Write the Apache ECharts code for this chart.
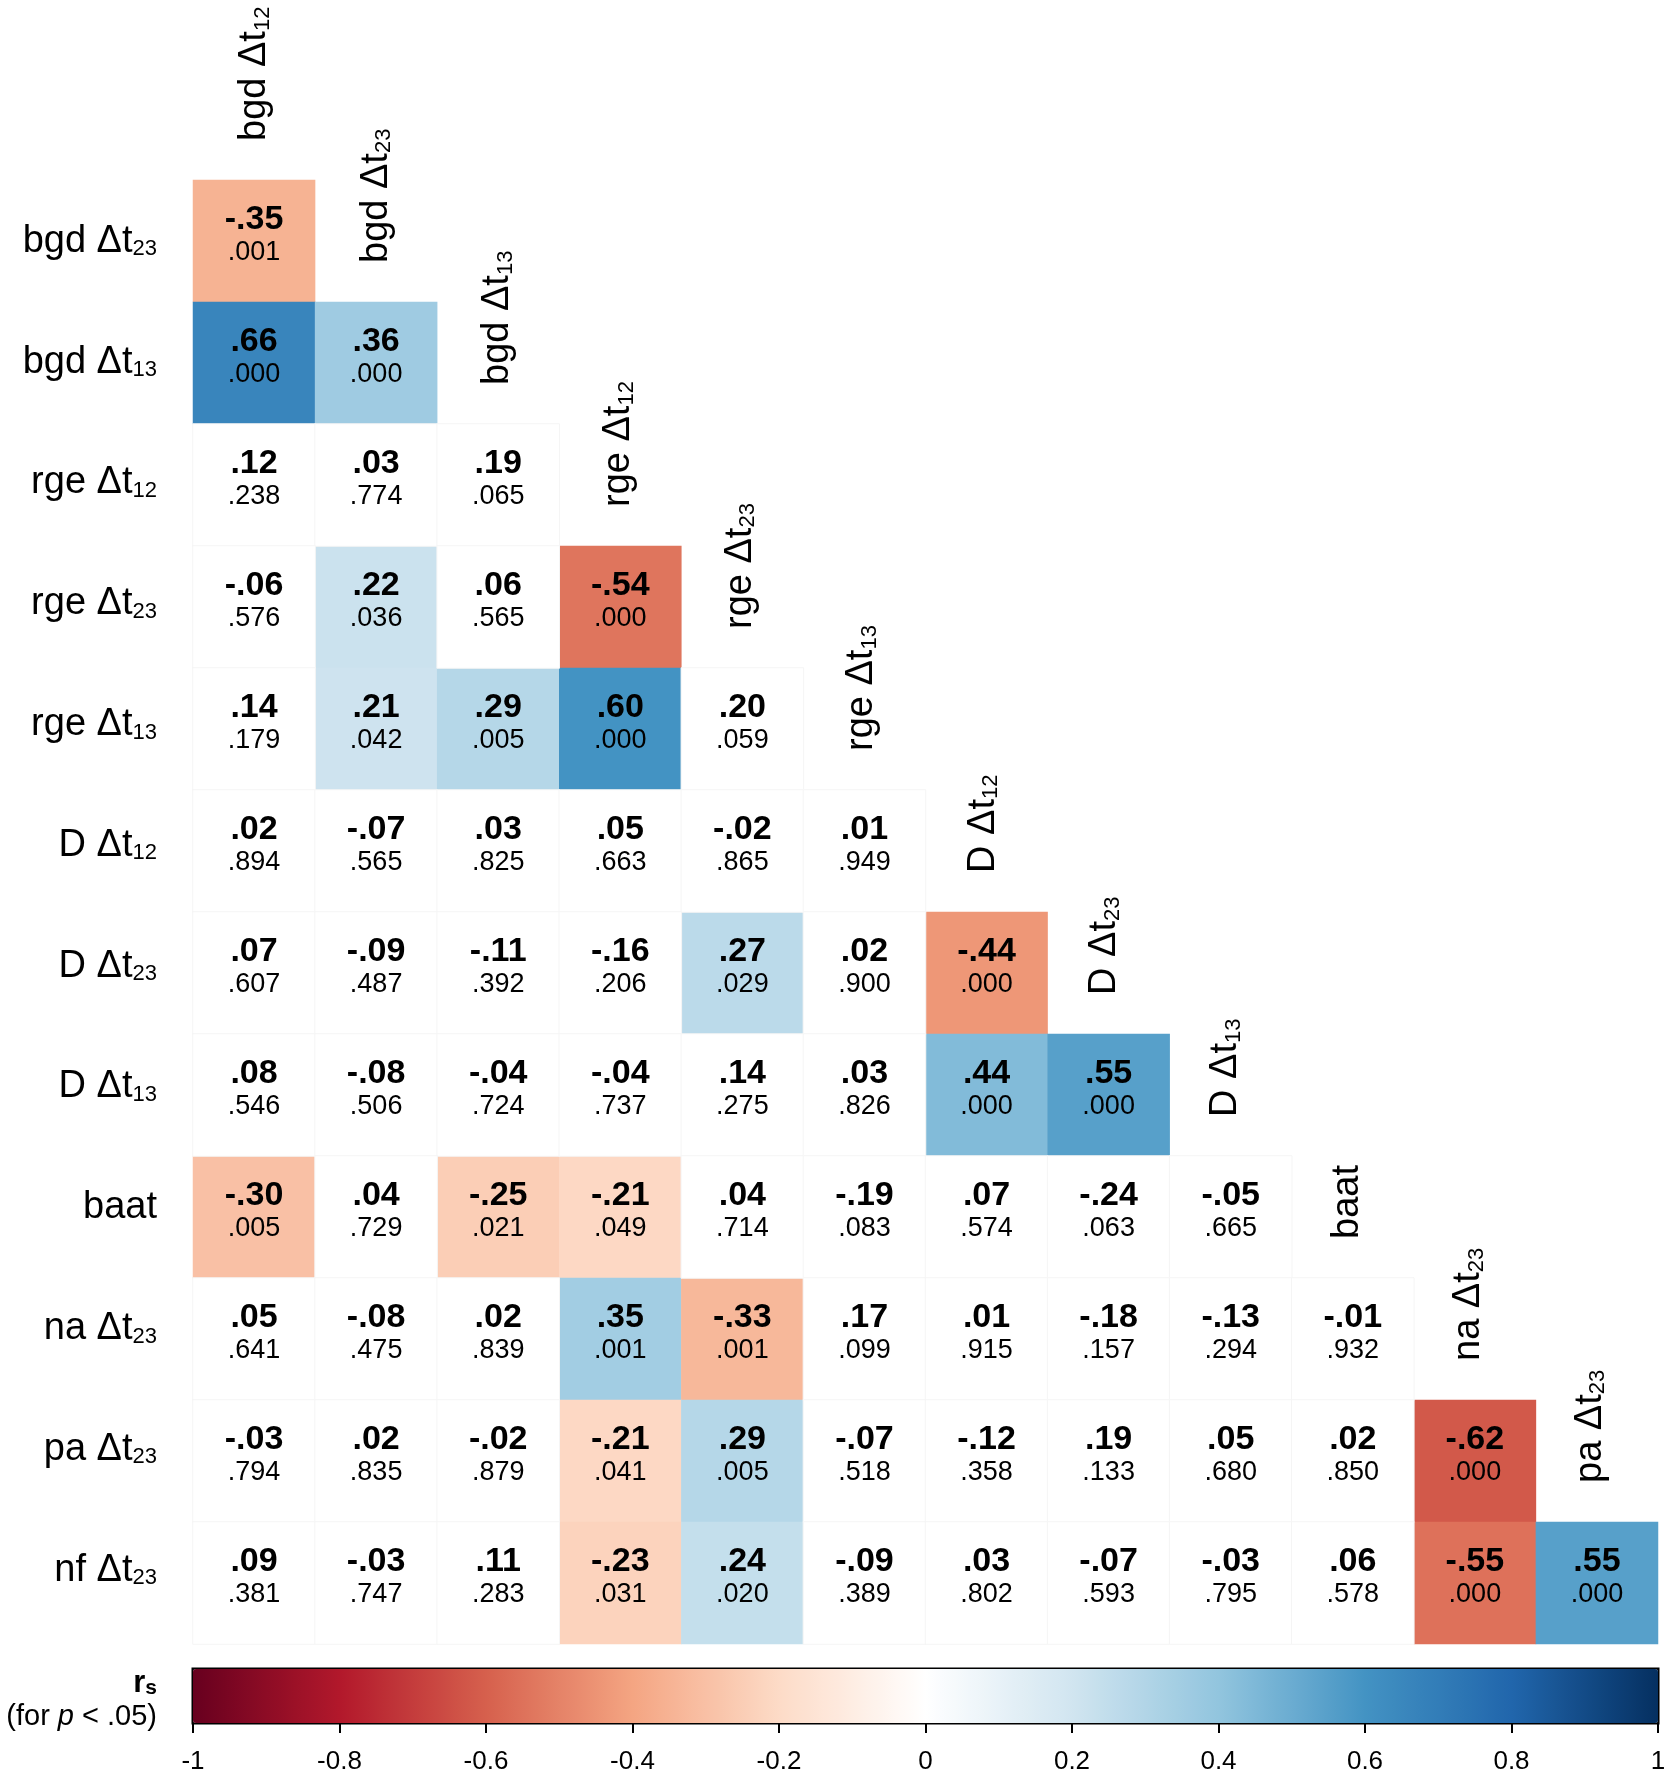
<!DOCTYPE html>
<html>
<head>
<meta charset="utf-8">
<title>Spearman correlation matrix</title>
<script src="https://cdn.jsdelivr.net/npm/echarts@6/dist/echarts.min.js"></script>
<style>
html, body { margin: 0; padding: 0; background: #fff; }
#main { width: 1665px; height: 1776px; }
</style>
</head>
<body>
<div id="main"></div>
<script>
// variable names: base text and subscript
var varBase = ['bgd Δt', 'bgd Δt', 'bgd Δt', 'rge Δt', 'rge Δt', 'rge Δt',
               'D Δt', 'D Δt', 'D Δt', 'baat', 'na Δt', 'pa Δt', 'nf Δt'];
var varSub = ['12', '23', '13', '12', '23', '13', '12', '23', '13', '', '23', '23', '23'];

// lower triangle: row i is variable i+1 against variables 0..i
var rValues = [
  [-0.35],
  [0.66, 0.36],
  [0.12, 0.03, 0.19],
  [-0.06, 0.22, 0.06, -0.54],
  [0.14, 0.21, 0.29, 0.60, 0.20],
  [0.02, -0.07, 0.03, 0.05, -0.02, 0.01],
  [0.07, -0.09, -0.11, -0.16, 0.27, 0.02, -0.44],
  [0.08, -0.08, -0.04, -0.04, 0.14, 0.03, 0.44, 0.55],
  [-0.30, 0.04, -0.25, -0.21, 0.04, -0.19, 0.07, -0.24, -0.05],
  [0.05, -0.08, 0.02, 0.35, -0.33, 0.17, 0.01, -0.18, -0.13, -0.01],
  [-0.03, 0.02, -0.02, -0.21, 0.29, -0.07, -0.12, 0.19, 0.05, 0.02, -0.62],
  [0.09, -0.03, 0.11, -0.23, 0.24, -0.09, 0.03, -0.07, -0.03, 0.06, -0.55, 0.55]
];
var pValues = [
  [0.001],
  [0.000, 0.000],
  [0.238, 0.774, 0.065],
  [0.576, 0.036, 0.565, 0.000],
  [0.179, 0.042, 0.005, 0.000, 0.059],
  [0.894, 0.565, 0.825, 0.663, 0.865, 0.949],
  [0.607, 0.487, 0.392, 0.206, 0.029, 0.900, 0.000],
  [0.546, 0.506, 0.724, 0.737, 0.275, 0.826, 0.000, 0.000],
  [0.005, 0.729, 0.021, 0.049, 0.714, 0.083, 0.574, 0.063, 0.665],
  [0.641, 0.475, 0.839, 0.001, 0.001, 0.099, 0.915, 0.157, 0.294, 0.932],
  [0.794, 0.835, 0.879, 0.041, 0.005, 0.518, 0.358, 0.133, 0.680, 0.850, 0.000],
  [0.381, 0.747, 0.283, 0.031, 0.020, 0.389, 0.802, 0.593, 0.795, 0.578, 0.000, 0.000]
];
var alpha = 0.05;

// colour bar scale
var barMin = -1;
var barMax = 1;
var barStep = 0.2;
var rdbu = ['#67001F', '#B2182B', '#D6604D', '#F4A582', '#FDDBC7', '#FFFFFF',
            '#D1E5F0', '#92C5DE', '#4393C3', '#2166AC', '#053061'];

var FONT = '"Liberation Sans", Arial, Helvetica, sans-serif';

function fmt(v, d) {
  return v.toFixed(d).replace(/^(-?)0\./, '$1.');
}
function nameRich(k) {
  return '{m|' + varBase[k] + '}' + (varSub[k] ? '{s|' + varSub[k] + '}' : '');
}

var colNames = [], rowNames = [];
for (var k = 0; k < varBase.length; k++) {
  if (k < varBase.length - 1) colNames.push(varBase[k] + varSub[k]);
  if (k > 0) rowNames.push(varBase[k] + varSub[k]);
}

// split cells: coloured when p < .05, white otherwise
var sigData = [], nsData = [];
rValues.forEach(function (row, i) {
  row.forEach(function (r, j) {
    var item = [j, i, r, pValues[i][j]];
    if (pValues[i][j] < alpha) sigData.push(item); else nsData.push(item);
  });
});

var cellLabel = {
  show: true,
  color: '#000',
  offset: [0, -5],
  formatter: function (p) {
    return '{r|' + fmt(p.data[2], 2) + '}\n{p|' + fmt(p.data[3], 3) + '}';
  },
  rich: {
    r: { fontFamily: FONT, fontSize: 34, fontWeight: 'bold', lineHeight: 32.5, color: '#000' },
    p: { fontFamily: FONT, fontSize: 27, lineHeight: 32.5, color: '#000' }
  }
};

var chart = echarts.init(document.getElementById('main'));

var option = {
  backgroundColor: '#fff',
  animation: false,
  grid: [
    // cells
    { left: 193, top: 180, width: 1465, height: 1464, outerBoundsMode: 'none' },
    // colour bar
    { left: 193, top: 1669, width: 1465, height: 54, show: true, borderColor: '#000',
      borderWidth: 3, backgroundColor: 'transparent', outerBoundsMode: 'none' },
    // name labels (their spacing is a little tighter than the cells)
    { left: 194, top: 181, width: 1456.8, height: 1449.6, outerBoundsMode: 'none' }
  ],
  xAxis: [
    { type: 'category', gridIndex: 0, data: colNames, show: false },
    { type: 'value', gridIndex: 1, min: barMin, max: barMax, interval: barStep, position: 'bottom',
      axisLine: { show: false },
      axisTick: { show: true, length: 10, lineStyle: { color: '#000', width: 2 } },
      splitLine: { show: false },
      axisLabel: { margin: 26, fontSize: 26, fontFamily: FONT, color: '#000' } },
    { type: 'category', gridIndex: 2, data: colNames, show: false }
  ],
  yAxis: [
    { type: 'category', gridIndex: 0, data: rowNames, inverse: true, show: false },
    { type: 'value', gridIndex: 1, min: 0, max: 1, show: false },
    { type: 'category', gridIndex: 2, data: rowNames, inverse: true,
      axisLine: { show: false }, axisTick: { show: false }, splitLine: { show: false },
      axisLabel: {
        margin: 37,
        formatter: function (v, i) { return nameRich(i + 1); },
        rich: {
          m: { fontFamily: FONT, fontSize: 38, lineHeight: 38, color: '#000' },
          s: { fontFamily: FONT, fontSize: 22, lineHeight: 13, verticalAlign: 'bottom', color: '#000' }
        }
      } }
  ],
  visualMap: {
    type: 'continuous',
    seriesIndex: 0,
    dimension: 2,
    min: barMin,
    max: barMax,
    orient: 'horizontal',
    left: 193,
    top: 1669,
    itemWidth: 54,
    itemHeight: 1465,
    padding: 0,
    calculable: false,
    hoverLink: false,
    inRange: { color: rdbu }
  },
  series: [
    { name: 'significant', type: 'heatmap', xAxisIndex: 0, yAxisIndex: 0, data: sigData,
      label: cellLabel, emphasis: { disabled: true } },
    { name: 'not significant', type: 'heatmap', xAxisIndex: 0, yAxisIndex: 0, data: nsData,
      itemStyle: { color: '#fff', borderColor: '#f5f5f5', borderWidth: 1 },
      label: cellLabel, emphasis: { disabled: true } }
  ]
};
chart.setOption(option);

// column labels, rotated, sitting above each diagonal cell
var cellH = chart.convertToPixel({ yAxisIndex: 0 }, 1) - chart.convertToPixel({ yAxisIndex: 0 }, 0);
var nameRichGfx = {
  m: { font: '38px ' + FONT, lineHeight: 38, fill: '#000' },
  s: { font: '22px ' + FONT, lineHeight: 13, verticalAlign: 'bottom', fill: '#000' }
};
var graphics = [];
colNames.forEach(function (n, j) {
  var cx = chart.convertToPixel({ xAxisIndex: 2 }, j);
  var rowTop = chart.convertToPixel({ yAxisIndex: 0 }, j) - cellH / 2;
  graphics.push({
    type: 'text', x: cx, y: rowTop - 39, rotation: Math.PI / 2,
    style: { text: nameRich(j), rich: nameRichGfx, fill: '#000',
             align: 'left', verticalAlign: 'middle' }
  });
});

// colour bar title
graphics.push({
  type: 'text', x: 157, y: 1683,
  style: { text: '{b|r}{bs|s}', align: 'right', verticalAlign: 'middle', fill: '#000',
           rich: { b: { font: 'bold 31px ' + FONT, lineHeight: 31, fill: '#000' },
                   bs: { font: 'bold 21px ' + FONT, lineHeight: 16, verticalAlign: 'bottom', fill: '#000' } } }
});
graphics.push({
  type: 'text', x: 157, y: 1717,
  style: { text: '{n|(for }{i|p}{n| < .05)}', align: 'right', verticalAlign: 'middle', fill: '#000',
           rich: { n: { font: '29px ' + FONT, fill: '#000' },
                   i: { font: 'italic 29px ' + FONT, fill: '#000' } } }
});

chart.setOption({ graphic: graphics });
</script>
</body>
</html>
